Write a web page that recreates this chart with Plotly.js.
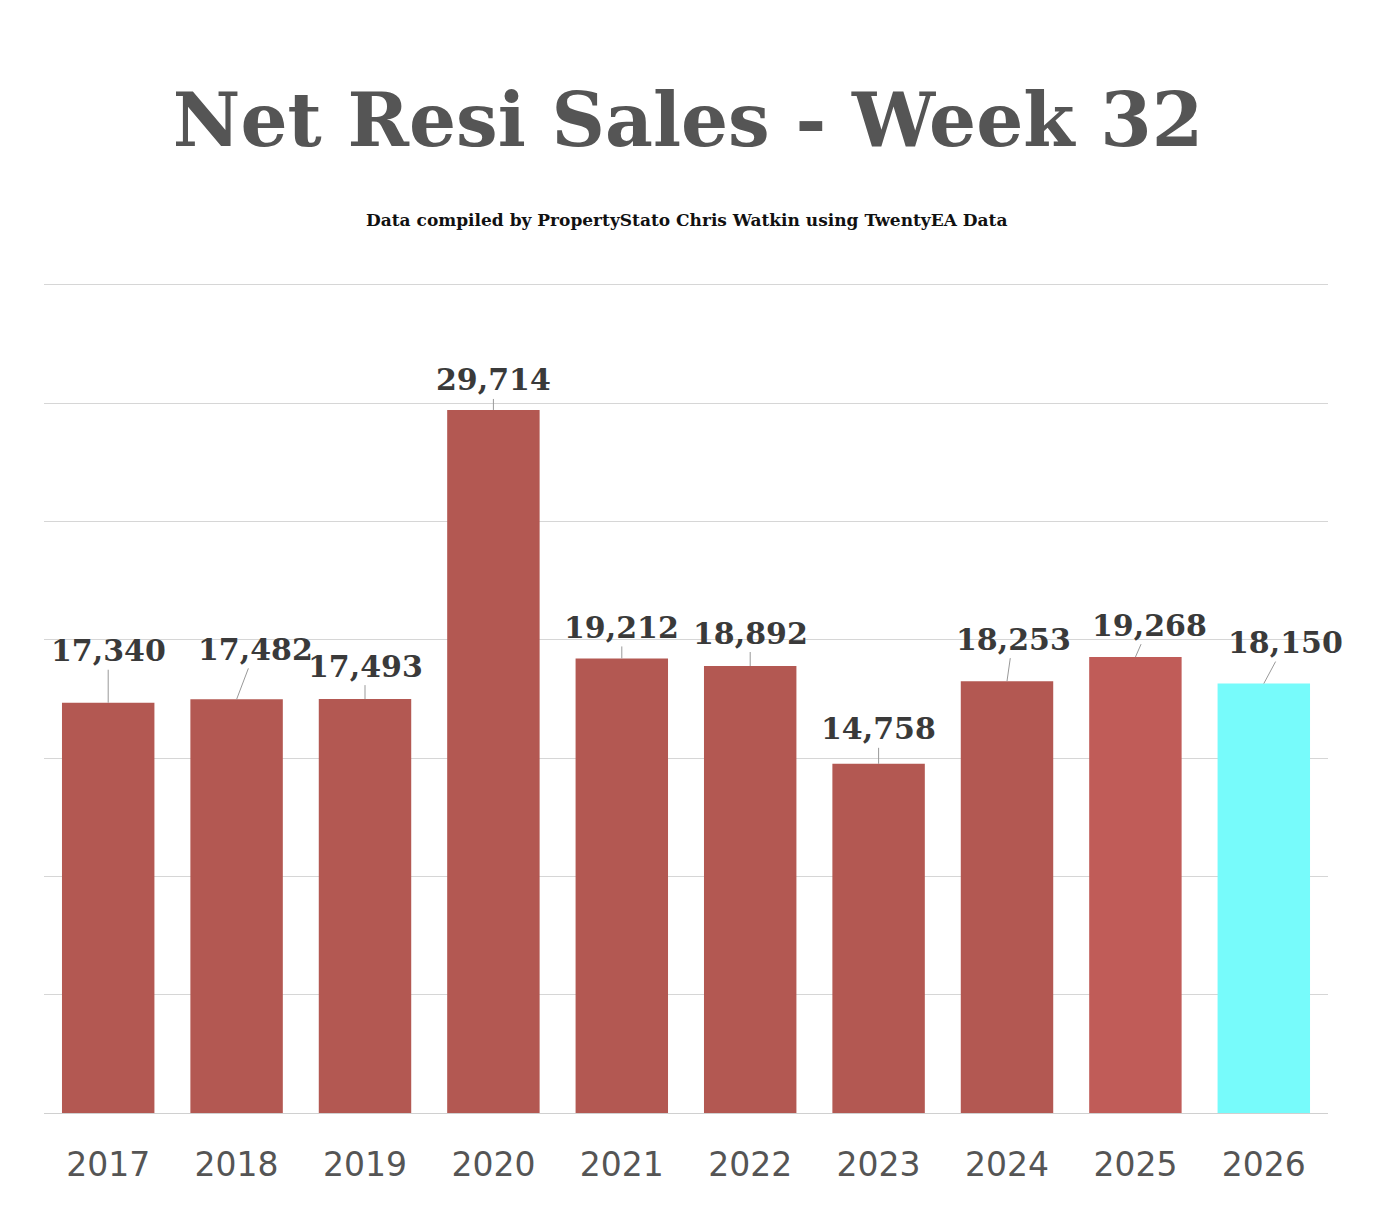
<!DOCTYPE html>
<html>
<head>
<meta charset="utf-8">
<script src="https://cdn.plot.ly/plotly-3.0.1.min.js"></script>
<style>body{margin:0;background:#fff}</style>
</head>
<body>
<div id="plot" style="width:1376px;height:1210px"></div>
<script>
const years = ["2017","2018","2019","2020","2021","2022","2023","2024","2025","2026"];
const sales = [17340, 17482, 17493, 29714, 19212, 18892, 14758, 18253, 19268, 18150];
const barColors = ["#B35852","#B35852","#B35852","#B35852","#B35852","#B35852","#B35852","#B35852","#C05C58","#77FBFB"];
// label offsets in pixels (text centre relative to bar top)
const labelDx = [0, 19, 0, 0, 0, 0, 0, 6, 14, 22];
const labelDy = [-52, -50, -33, -30, -31, -33, -35, -42, -32, -41];

const slab = "Rockwell, 'DejaVu Serif', serif";

const annotations = years.map((y, i) => ({
  x: i, y: sales[i], xref: "x", yref: "y",
  text: "<b>" + sales[i].toLocaleString("en-US") + "</b>",
  showarrow: true, arrowhead: 0, arrowwidth: 1, arrowcolor: "#999",
  ax: labelDx[i], ay: labelDy[i], standoff: 0,
  font: {family: slab, size: 30, color: "#3a3a3a"}
}));
annotations.push({
  text: "<b>Data compiled by PropertyStato Chris Watkin using TwentyEA Data</b>",
  xref: "paper", yref: "paper", x: 0.5, y: (1113 - 224) / 826, yanchor: "middle",
  showarrow: false, font: {family: slab, size: 17, color: "#111"}
});

Plotly.newPlot("plot", [{
  type: "bar", x: years, y: sales,
  marker: {color: barColors},
  hoverinfo: "none"
}], {
  width: 1376, height: 1210,
  margin: {l: 44, r: 48, t: 283, b: 97},
  paper_bgcolor: "#fff", plot_bgcolor: "#fff",
  bargap: 0.28,
  showlegend: false,
  title: {text: "<b>Net Resi Sales - Week 32</b>", x: 0.5, xanchor: "center",
          y: 1 - 120 / 1210, yref: "container", yanchor: "middle",
          font: {family: slab, size: 74, color: "#555"}},
  xaxis: {type: "category", range: [-0.5, 9.5], showgrid: false, showline: true, linecolor: "#d0d0d0",
          ticks: "", ticklabelstandoff: 22,
          tickfont: {family: "'DejaVu Sans', sans-serif", size: 33, color: "#555"}},
  yaxis: {range: [0, 35080], dtick: 5000, showticklabels: false,
          gridcolor: "#d6d6d6", zeroline: false},
  annotations: annotations
}, {displayModeBar: false});
</script>
</body>
</html>
